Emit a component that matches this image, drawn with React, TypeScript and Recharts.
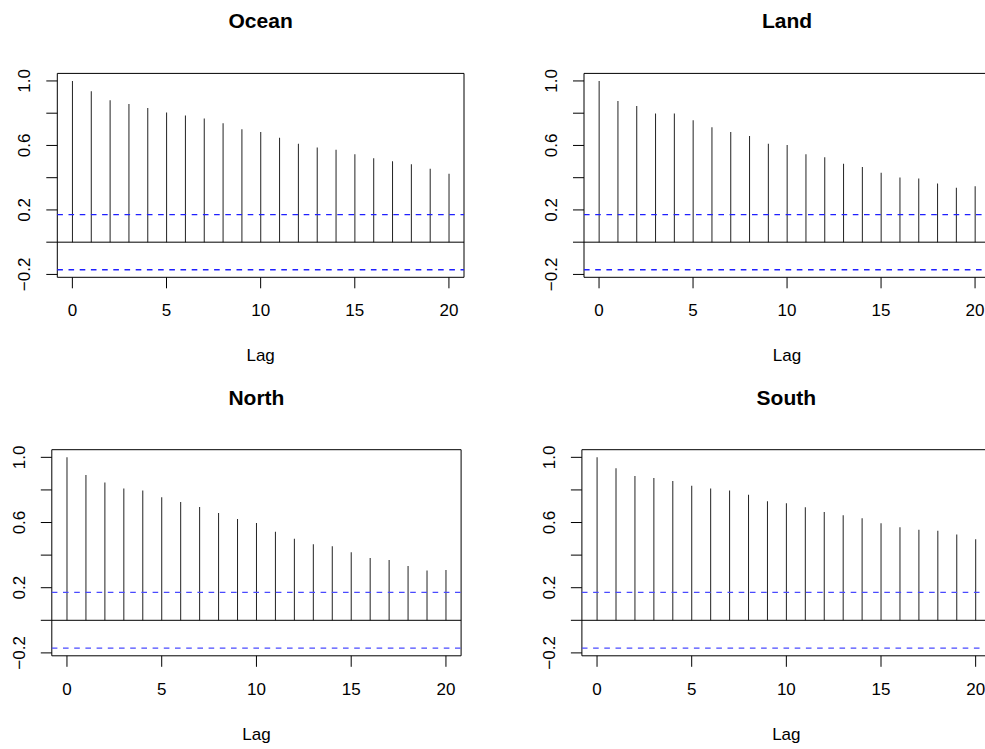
import React from 'react';
import { ComposedChart, Bar, XAxis, YAxis, ReferenceLine, ReferenceArea } from 'recharts';

// lags 0..20
const lags = [0, 1, 2, 3, 4, 5, 6, 7, 8, 9, 10, 11, 12, 13, 14, 15, 16, 17, 18, 19, 20];

const oceanAcf = [1.0, 0.936, 0.88, 0.857, 0.833, 0.804, 0.785, 0.767, 0.738, 0.7, 0.684, 0.647, 0.61, 0.587, 0.574, 0.545, 0.521, 0.502, 0.483, 0.455, 0.424];
const landAcf = [1.0, 0.876, 0.845, 0.798, 0.798, 0.756, 0.713, 0.684, 0.659, 0.61, 0.603, 0.545, 0.527, 0.486, 0.467, 0.43, 0.401, 0.395, 0.364, 0.337, 0.347];
const northAcf = [1.0, 0.892, 0.845, 0.808, 0.796, 0.755, 0.726, 0.695, 0.658, 0.622, 0.597, 0.544, 0.501, 0.466, 0.454, 0.417, 0.382, 0.37, 0.333, 0.305, 0.309];
const southAcf = [1.0, 0.933, 0.885, 0.873, 0.855, 0.826, 0.808, 0.796, 0.771, 0.73, 0.718, 0.693, 0.665, 0.644, 0.626, 0.595, 0.571, 0.556, 0.55, 0.526, 0.497];

// 95% bound, 1.96/sqrt(n)
const confBound = 0.171;

const xTicks = [0, 5, 10, 15, 20];
const yTicks = [-0.2, 0, 0.2, 0.4, 0.6, 0.8, 1.0];

const FONT = '"Liberation Sans", Arial, sans-serif';

const YTick = (props: any) => {
  const { x, y, payload } = props;
  const v = payload.value;
  // R skips every other label when they would overlap
  if (Math.abs(Math.round(v * 10)) % 4 !== 2) return null;
  const label = v.toFixed(1).replace('-', '\u2212');
  const bx = x - 16;
  return (
    <text
      x={bx}
      y={y}
      transform={`rotate(-90, ${bx}, ${y})`}
      textAnchor="middle"
      fontSize={17}
      fontFamily={FONT}
      fill="#000"
    >
      {label}
    </text>
  );
};

interface PanelProps {
  title: string;
  values: number[];
  cellX: number;
  cellY: number;
  cellW: number;
  plotLeft: number;
  plotTop: number;
  plotW: number;
  plotH: number;
  boundColor: string;
}

const CELL_H = 374;
const Y_W = 50;
const X_H = 60;

const Panel: React.FC<PanelProps> = ({ title, values, cellX, cellY, cellW, plotLeft, plotTop, plotW, plotH, boundColor }) => {
  const data = lags.map((lag, i) => ({ lag, acf: values[i] }));
  const lo = Math.min(-confBound, ...values);
  const hi = Math.max(confBound, ...values);
  const pad = (hi - lo) * 0.04;
  const yMin = lo - pad;
  const yMax = hi + pad;
  const xMin = -0.8;
  const xMax = 20.8;

  const left = plotLeft - cellX;
  const top = plotTop - cellY;
  const margin = {
    left: left - Y_W,
    top,
    right: cellW - left - plotW,
    bottom: CELL_H - top - plotH - X_H,
  };
  const centerX = left + plotW / 2;

  return (
    <div style={{ position: 'absolute', left: cellX, top: cellY, width: cellW, height: CELL_H, overflow: 'hidden' }}>
      <div
        style={{
          position: 'absolute', left: centerX - 100, width: 200, top: top - 52 - 12,
          textAlign: 'center', fontFamily: FONT, fontWeight: 'bold', fontSize: 21, lineHeight: '24px',
        }}
      >
        {title}
      </div>
      <ComposedChart width={cellW} height={CELL_H} data={data} margin={margin}>
        <XAxis
          dataKey="lag"
          type="number"
          domain={[xMin, xMax]}
          ticks={xTicks}
          allowDataOverflow
          axisLine={false}
          tickSize={11}
          tickMargin={16}
          height={X_H}
          tickLine={{ stroke: '#000' }}
          tick={{ fontSize: 17, fill: '#000', fontFamily: FONT }}
          interval={0}
        />
        <YAxis
          type="number"
          domain={[yMin, yMax]}
          ticks={yTicks}
          allowDataOverflow
          axisLine={false}
          tickSize={11}
          tickMargin={0}
          width={Y_W}
          tickLine={{ stroke: '#000' }}
          tick={<YTick />}
          interval={0}
        />
        <ReferenceArea x1={xMin} x2={xMax} y1={yMin} y2={yMax} fill="none" stroke="#000" strokeWidth={1} ifOverflow="visible" />
        <Bar dataKey="acf" barSize={1} fill="#222" isAnimationActive={false} />
        <ReferenceLine y={0} stroke="#000" strokeWidth={1} />
        <ReferenceLine y={confBound} stroke={boundColor} strokeWidth={1.3} strokeDasharray="5.6 5.6" />
        <ReferenceLine y={-confBound} stroke={boundColor} strokeWidth={1.3} strokeDasharray="5.6 5.6" />
      </ComposedChart>
      <div
        style={{
          position: 'absolute', left: centerX - 50, width: 100, top: top + plotH + 80 - 11,
          textAlign: 'center', fontFamily: FONT, fontSize: 17, lineHeight: '20px',
        }}
      >
        Lag
      </div>
    </div>
  );
};

export default function App() {
  return (
    <div style={{ position: 'absolute', left: 0, top: 0, width: 985, height: 749, overflow: 'hidden', background: '#fff' }}>
      <Panel title="Ocean" values={oceanAcf} cellX={0} cellY={0} cellW={495} plotLeft={57.3} plotTop={73.4} plotW={406.7} plotH={203.9} boundColor="#2020ff" />
      <Panel title="Land" values={landAcf} cellX={495} cellY={0} cellW={490} plotLeft={584} plotTop={73.4} plotW={406.1} plotH={203.9} boundColor="#2020ff" />
      <Panel title="North" values={northAcf} cellX={0} cellY={375} cellW={495} plotLeft={51.8} plotTop={449.7} plotW={409.3} plotH={206.1} boundColor="#4a4aff" />
      <Panel title="South" values={southAcf} cellX={495} cellY={375} cellW={490} plotLeft={581.9} plotTop={449.7} plotW={408.9} plotH={206.1} boundColor="#4a4aff" />
    </div>
  );
}
